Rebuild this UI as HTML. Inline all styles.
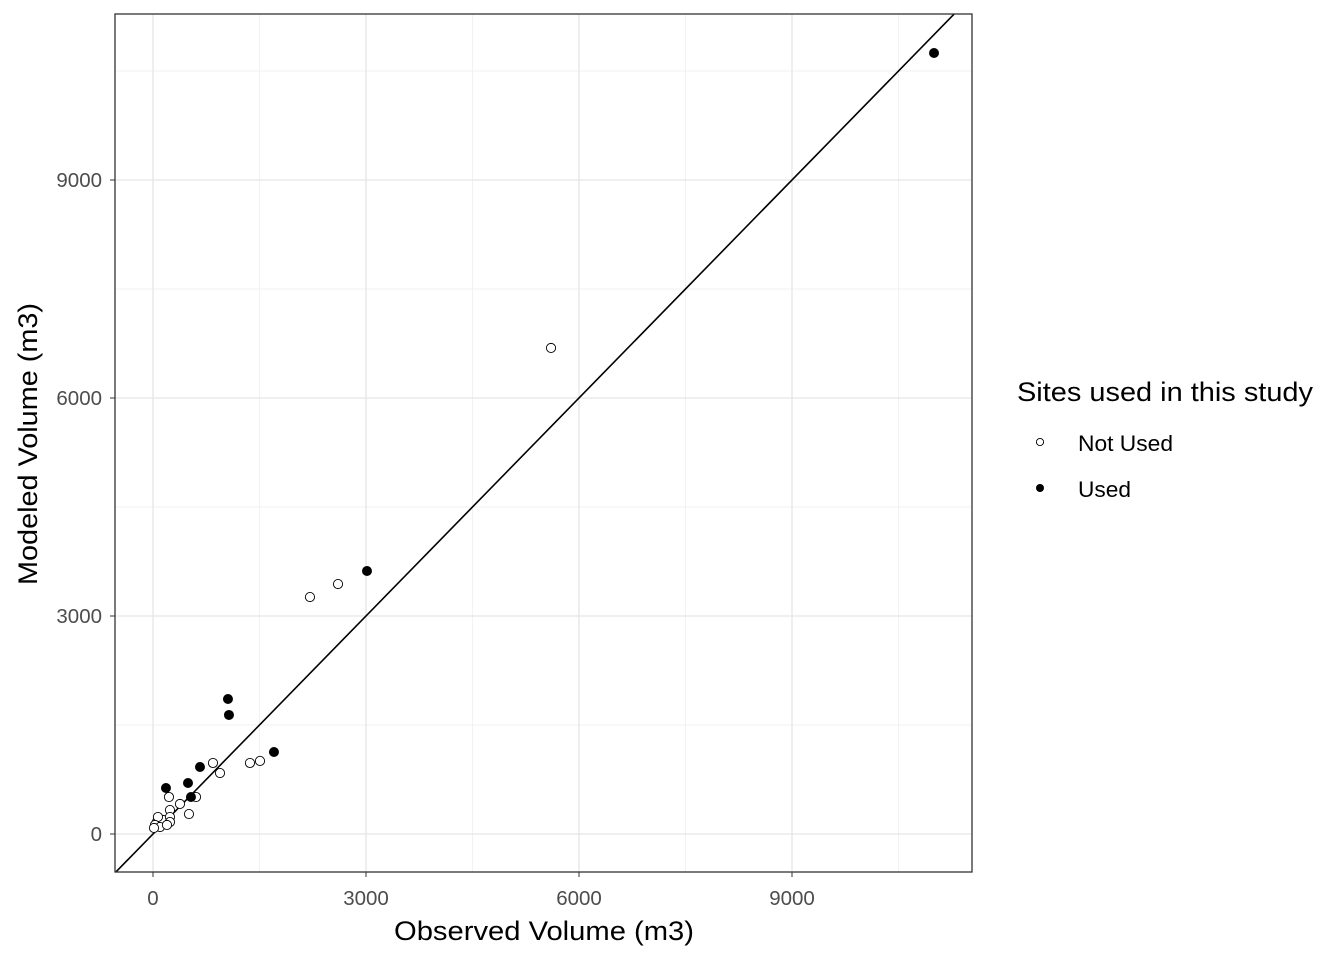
<!DOCTYPE html>
<html><head><meta charset="utf-8">
<style>body{margin:0;background:#fff}svg{display:block;font-family:"Liberation Sans",Arial,sans-serif}</style>
</head><body>
<svg id="chart" width="1344" height="960"></svg>
<script>
const usedX=[1056,1070,1704,662,493,183,535,3014,11000];
const usedY=[1858,1638,1128,922,702,633,509,3619,10747];
const notUsedX=[5606,2211,2606,845,944,1366,1507,225,380,606,507,239,56,141,239,70,28,99,14,239,197];
const notUsedY=[6688,3261,3440,977,839,977,1005,509,413,509,275,330,165,193,234,234,124,96,83,165,124];
const xTicks=[0,3000,6000,9000];
const yTicks=[0,3000,6000,9000];
const L=115,R=972,T=14,B=872;
const xMin=-535,xMax=11535,yMin=-523,yMax=11284;
const sx=v=>L+(v-xMin)/(xMax-xMin)*(R-L);
const sy=v=>B-(v-yMin)/(yMax-yMin)*(B-T);
const svg=document.getElementById('chart');
const NS='http://www.w3.org/2000/svg';
function mk(tag,attrs,parent){const e=document.createElementNS(NS,tag);for(const k in attrs)e.setAttribute(k,attrs[k]);(parent||svg).appendChild(e);return e;}
for(let i=0;i<xTicks.length;i++){
  const m=xTicks[i]+1500;
  if(m<xMax){const g=mk('line',{x1:sx(m),x2:sx(m),y1:T,y2:B,stroke:'#f2f2f2','stroke-width':1});
  
  }
  const my=yTicks[i]+1500;
  if(my<yMax){const g=mk('line',{x1:L,x2:R,y1:sy(my),y2:sy(my),stroke:'#f2f2f2','stroke-width':1});
  
  }
}
xTicks.forEach(v=>{
  const g=mk('line',{x1:sx(v),x2:sx(v),y1:T,y2:B,stroke:'#e5e5e5','stroke-width':1.3});
  
  
  const t=mk('line',{x1:sx(v),x2:sx(v),y1:B,y2:B+5,stroke:'#333','stroke-width':1});
  
  
  const l=mk('text',{x:sx(v),y:905,'text-anchor':'middle','font-size':20.5,fill:'#4d4d4d'});
  l.textContent=v;
  
  
});
yTicks.forEach(v=>{
  const g=mk('line',{x1:L,x2:R,y1:sy(v),y2:sy(v),stroke:'#e5e5e5','stroke-width':1.3});
  
  
  const t=mk('line',{x1:L-5,x2:L,y1:sy(v),y2:sy(v),stroke:'#333','stroke-width':1});
  
  
  const l=mk('text',{x:L-13,y:sy(v)+7,'text-anchor':'end','font-size':20.5,fill:'#4d4d4d'});
  l.textContent=v;
  
  
});
const clip=mk('clipPath',{id:'pc'});mk('rect',{x:L,y:T,width:R-L,height:B-T},clip);
const line=mk('line',{x1:sx(xMin),y1:sy(xMin),x2:sx(xMax),y2:sy(xMax),stroke:'#000','stroke-width':1.6,'clip-path':'url(#pc)'});


notUsedX.forEach((v,i)=>{
  const c=mk('circle',{cx:sx(v),cy:sy(notUsedY[i]),r:4.6,fill:'#fff',stroke:'#000','stroke-width':0.9});
  
  
});
usedX.forEach((v,i)=>{
  const c=mk('circle',{cx:sx(v),cy:sy(usedY[i]),r:5,fill:'#000'});
  
  
});
const fr=mk('rect',{x:L,y:T,width:R-L,height:B-T,fill:'none',stroke:'#333','stroke-width':1.3});


</script>
<svg style="position:absolute;left:0;top:0" width="1344" height="960">
<text x="394" y="940" textLength="300" lengthAdjust="spacingAndGlyphs" font-size="27" fill="#000" font-family="Liberation Sans,sans-serif">Observed Volume (m3)</text>
<text transform="translate(37,585) rotate(-90)" textLength="282" lengthAdjust="spacingAndGlyphs" font-size="27" fill="#000" font-family="Liberation Sans,sans-serif">Modeled Volume (m3)</text>
<text x="1017" y="401" textLength="296" lengthAdjust="spacingAndGlyphs" font-size="27" fill="#000" font-family="Liberation Sans,sans-serif">Sites used in this study</text>
<circle cx="1040" cy="442" r="3.6" fill="#fff" stroke="#000" stroke-width="0.9"/>
<text x="1078" y="451" textLength="95" lengthAdjust="spacingAndGlyphs" font-size="22" fill="#000" font-family="Liberation Sans,sans-serif">Not Used</text>
<circle cx="1040" cy="488" r="4" fill="#000"/>
<text x="1078" y="497" textLength="53" lengthAdjust="spacingAndGlyphs" font-size="22" fill="#000" font-family="Liberation Sans,sans-serif">Used</text>
</svg>
</body></html>
